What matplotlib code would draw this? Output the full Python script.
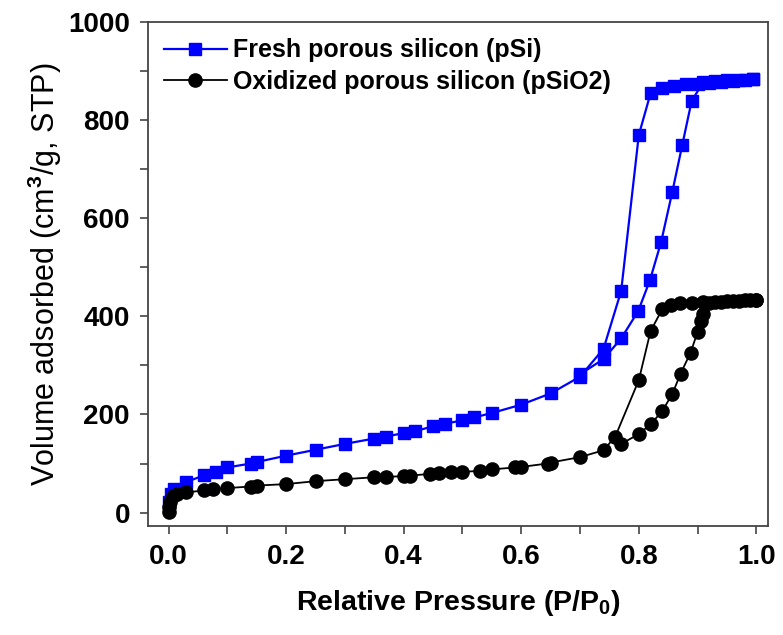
# N2 adsorption-desorption isotherms, fresh vs oxidized porous silicon

import matplotlib
matplotlib.use("Agg")
import matplotlib.pyplot as plt
from matplotlib.ticker import MultipleLocator

plt.rcParams['font.family'] = ['Liberation Sans', 'DejaVu Sans']
plt.rcParams['font.weight'] = 'bold'
plt.rcParams['mathtext.fontset'] = 'custom'
plt.rcParams['mathtext.rm'] = 'Liberation Sans'
plt.rcParams['mathtext.bf'] = 'Liberation Sans:bold'

# Fresh pSi - adsorption branch
psi_ads_x = [0.001, 0.005, 0.01, 0.03, 0.06, 0.08, 0.10, 0.14, 0.15, 0.20, 0.25,
             0.30, 0.35, 0.37, 0.40, 0.42, 0.45, 0.47, 0.50, 0.52, 0.55, 0.60,
             0.65, 0.70, 0.74, 0.77, 0.80, 0.82, 0.84, 0.86, 0.88, 0.90, 0.92,
             0.94, 0.96, 0.98, 0.995]
psi_ads_y = [22, 38, 48, 62, 76, 83, 92, 100, 103, 116, 128,
             140, 151, 155, 162, 166, 176, 181, 188, 194, 203, 220,
             243, 277, 334, 452, 770, 855, 866, 870, 873, 875, 877,
             879, 881, 883, 885]

# Fresh pSi - desorption branch
psi_des_x = [0.995, 0.97, 0.95, 0.93, 0.91, 0.89, 0.874, 0.857, 0.838, 0.819,
             0.799, 0.77, 0.74, 0.70]
psi_des_y = [885, 883, 882, 880, 878, 840, 750, 654, 552, 474,
             411, 355, 313, 282]

# Oxidized pSiO2 - adsorption branch
ox_ads_x = [0.0, 0.001, 0.003, 0.007, 0.015, 0.03, 0.06, 0.075, 0.10, 0.14,
            0.15, 0.20, 0.25, 0.30, 0.35, 0.37, 0.40, 0.41, 0.445, 0.46, 0.48,
            0.50, 0.53, 0.55, 0.59, 0.60, 0.645, 0.65, 0.70, 0.74, 0.76, 0.80,
            0.82, 0.84, 0.855, 0.87, 0.89, 0.91, 0.93, 0.95, 0.97, 0.99, 1.0]
ox_ads_y = [2, 12, 22, 33, 38, 41, 45, 47, 50, 53,
            55, 58, 64, 68, 72, 73, 74, 75, 79, 80, 82,
            83, 85, 88, 92, 93, 100, 102, 113, 127, 155, 270,
            370, 415, 424, 427, 428, 429, 430, 431, 432, 433, 434]

# Oxidized pSiO2 - desorption branch
ox_des_x = [1.0, 0.98, 0.96, 0.94, 0.92, 0.91, 0.905, 0.90, 0.888, 0.871,
            0.857, 0.84, 0.82, 0.80, 0.77]
ox_des_y = [434, 433, 432, 430, 428, 405, 390, 368, 326, 283,
            242, 207, 180, 160, 140]

fig = plt.figure(figsize=(7.83, 6.35), dpi=100)
ax = fig.add_axes([0.189, 0.172, 0.792, 0.793])

blue = '#0000ff'
ax.plot(psi_ads_x, psi_ads_y, color=blue, marker='s', markersize=8.5, lw=1.6,
        label='Fresh porous silicon (pSi)')
ax.plot(psi_des_x, psi_des_y, color=blue, marker='s', markersize=8.5, lw=1.6)
ax.plot(ox_ads_x, ox_ads_y, color='black', marker='o', markersize=9.5, lw=1.3,
        label='Oxidized porous silicon (pSiO2)')
ax.plot(ox_des_x, ox_des_y, color='black', marker='o', markersize=9.5, lw=1.3)

ax.set_xlim(-0.035, 1.02)
ax.set_ylim(-27, 1000)
ax.xaxis.set_major_locator(MultipleLocator(0.2))
ax.xaxis.set_minor_locator(MultipleLocator(0.1))
ax.yaxis.set_major_locator(MultipleLocator(200))
ax.yaxis.set_minor_locator(MultipleLocator(100))
ax.xaxis.set_major_formatter(plt.FormatStrFormatter('%.1f'))

for s in ax.spines.values():
    s.set_color('#444444')
    s.set_linewidth(1.3)
ax.tick_params(which='both', direction='out', length=6, width=1.2, color='#444444',
               top=False, right=False)
ax.tick_params(which='major', labelsize=20, pad=7)

ax.set_xlabel('Relative Pressure (P/P$_\\mathbf{0}$)', fontsize=20.5, fontweight='bold',
              labelpad=13)
ax.set_ylabel('Volume adsorbed (cm$^\\mathrm{3}$/g, STP)', fontsize=22,
              fontweight='normal', labelpad=3)

ax.legend(loc='upper left', frameon=False, fontsize=18, handlelength=2.5,
          handletextpad=0.25, borderaxespad=0.25, labelspacing=0.3)

fig.savefig('out.png', dpi=100)
